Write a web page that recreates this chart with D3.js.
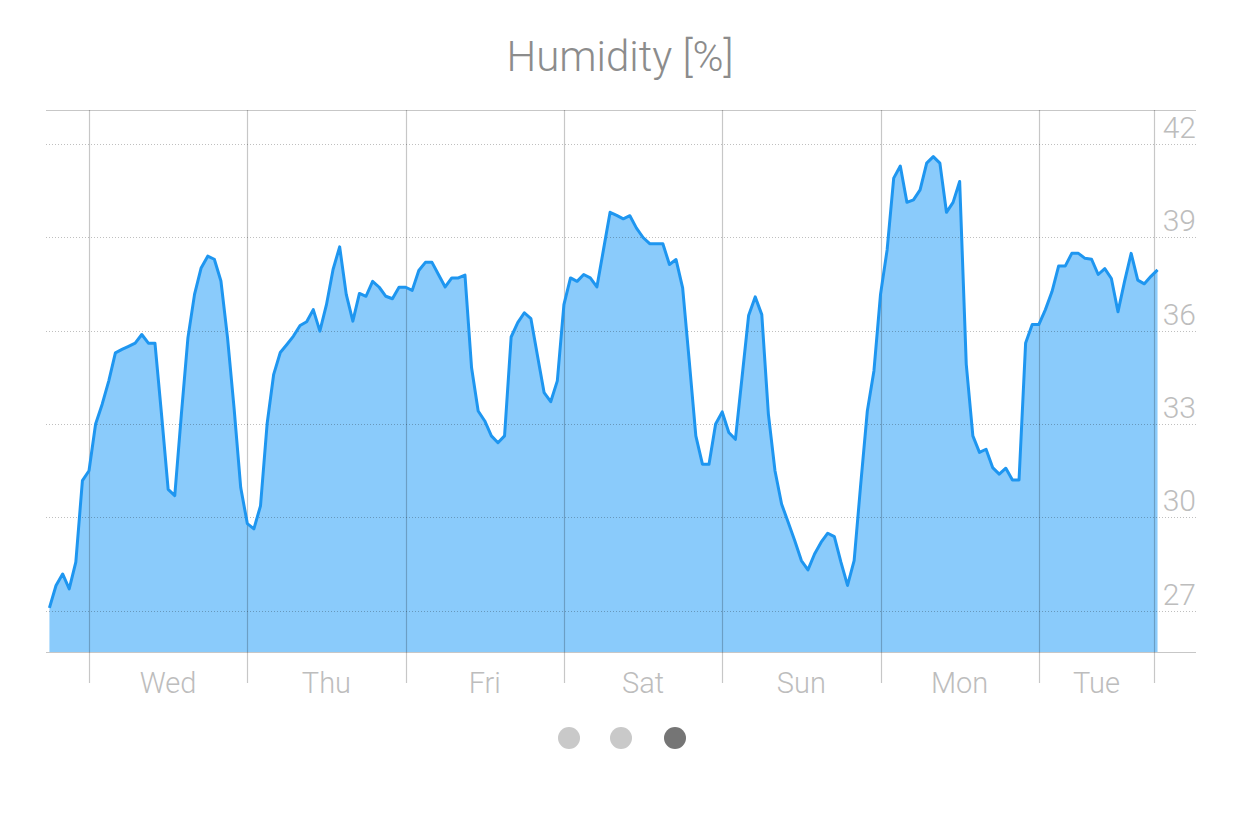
<!DOCTYPE html>
<html>
<head>
<meta charset="utf-8">
<script src="https://cdn.jsdelivr.net/npm/d3@7"></script>
<style>
  html, body { margin: 0; padding: 0; background: #fff; }
  svg { display: block; font-family: "Helvetica Neue", Roboto, "Open Sans", "Liberation Sans", sans-serif; }
</style>
</head>
<body>
<svg id="chart" width="1242" height="814"></svg>
<script>
// ---- data ----
const title = "Humidity [%]";
const days = ["Wed", "Thu", "Fri", "Sat", "Sun", "Mon", "Tue"];
// hourly readings, hour offsets relative to Wed 00:00 (start = Tue 18:00)
const startHour = -6;
const humidity = [
  27.09, 27.81, 28.18, 27.70, 28.56, 31.18,
  31.50, 33.00, 33.64, 34.39, 35.29, 35.40, 35.50, 35.60, 35.88, 35.60, 35.60, 33.30,
  30.90, 30.70, 33.30, 35.78, 37.17, 38.02, 38.40, 38.30, 37.60, 35.78, 33.50, 30.96,
  29.80, 29.63, 30.37, 33.00, 34.60, 35.30, 35.56, 35.83, 36.17, 36.29, 36.68, 35.99,
  36.84, 37.97, 38.70, 37.17, 36.31, 37.20, 37.11, 37.59, 37.40, 37.11, 37.03, 37.40,
  37.40, 37.30, 37.94, 38.20, 38.20, 37.80, 37.41, 37.70, 37.70, 37.79, 34.81, 33.42,
  33.10, 32.62, 32.40, 32.62, 35.80, 36.26, 36.58, 36.39, 35.19, 34.01, 33.72, 34.39,
  36.84, 37.70, 37.59, 37.81, 37.70, 37.41, 38.61, 39.81, 39.71, 39.60, 39.70, 39.30,
  39.00, 38.80, 38.80, 38.80, 38.13, 38.29, 37.38, 35.03, 32.62, 31.71, 31.71, 33.00,
  33.39, 32.73, 32.51, 34.49, 36.49, 37.09, 36.52, 33.32, 31.50, 30.43, 29.84, 29.25,
  28.61, 28.31, 28.82, 29.20, 29.49, 29.38, 28.56, 27.81, 28.61, 31.07, 33.42, 34.71,
  37.17, 38.60, 40.91, 41.30, 40.13, 40.21, 40.53, 41.39, 41.60, 41.39, 39.81, 40.13,
  40.80, 34.92, 32.62, 32.09, 32.19, 31.60, 31.39, 31.58, 31.20, 31.20, 35.61, 36.20,
  36.20, 36.68, 37.26, 38.08, 38.08, 38.49, 38.49, 38.33, 38.30, 37.81, 38.00, 37.68,
  36.61, 37.59, 38.49, 37.63, 37.51, 37.75, 37.96
];
const yTicks = [27, 30, 33, 36, 39, 42];
const xTickHours = [0, 24, 48, 72, 96, 120, 144, 161.5];
const pager = [false, false, true];

// ---- layout ----
const plot = { left: 46, right: 1196, top: 110, bottom: 652 };
const svg = d3.select("#chart");

const x = d3.scaleLinear().domain([-6.52, 167.83]).range([plot.left, plot.right]);
const y = d3.scaleLinear().domain([25.67, 43.1]).range([plot.bottom, plot.top]);

const data = humidity.map((v, i) => ({ h: startHour + i, v }));

// title
svg.append("text")
  .attr("x", 620).attr("y", 71)
  .attr("text-anchor", "middle")
  .attr("font-size", 42).attr("font-weight", 300)
  .attr("fill", "#8c8c8c")
  .text(title);

// area + line
const area = d3.area().x(d => x(d.h)).y0(plot.bottom).y1(d => y(d.v));
const line = d3.line().x(d => x(d.h)).y(d => y(d.v));

svg.append("path").datum(data)
  .attr("d", area).attr("fill", "#8acbfb");

// horizontal dotted gridlines
svg.append("g").selectAll("line").data(yTicks).join("line")
  .attr("x1", plot.left).attr("x2", plot.right)
  .attr("y1", d => Math.round(y(d)) + 0.5).attr("y2", d => Math.round(y(d)) + 0.5)
  .attr("stroke", "rgba(0,0,0,0.25)").attr("stroke-width", 1)
  .attr("stroke-dasharray", "1,2");

// vertical day gridlines (extend below axis as ticks)
svg.append("g").selectAll("line").data(xTickHours).join("line")
  .attr("x1", d => Math.round(x(d)) + 0.5).attr("x2", d => Math.round(x(d)) + 0.5)
  .attr("y1", plot.top).attr("y2", 683)
  .attr("stroke", "rgba(0,0,0,0.22)").attr("stroke-width", 1.2);

// top and bottom frame lines
[plot.top, plot.bottom].forEach(yy => {
  svg.append("line")
    .attr("x1", plot.left).attr("x2", plot.right)
    .attr("y1", yy + 0.5).attr("y2", yy + 0.5)
    .attr("stroke", "rgba(0,0,0,0.22)").attr("stroke-width", 1);
});

svg.append("path").datum(data)
  .attr("d", line).attr("fill", "none")
  .attr("stroke", "#1e96f0").attr("stroke-width", 3)
  .attr("stroke-linejoin", "round");

// y labels (right side, above gridline)
svg.append("g").selectAll("text").data(yTicks).join("text")
  .attr("x", 1196).attr("y", d => y(d) - 6)
  .attr("text-anchor", "end")
  .attr("font-size", 30).attr("font-weight", 300)
  .attr("fill", "#bdbdbd")
  .text(d => d);

// day labels centred between ticks
const mids = days.map((d, i) => ({ d, h: (xTickHours[i] + xTickHours[i + 1]) / 2 }));
svg.append("g").selectAll("text").data(mids).join("text")
  .attr("x", d => x(d.h)).attr("y", 693)
  .attr("text-anchor", "middle")
  .attr("font-size", 29).attr("font-weight", 300)
  .attr("fill", "#bdbdbd")
  .text(d => d.d);

// pager dots
svg.append("g").selectAll("circle").data(pager).join("circle")
  .attr("cx", (d, i) => [569, 621, 675][i]).attr("cy", 738).attr("r", 11)
  .attr("fill", d => d ? "#757575" : "#c9c9c9");
</script>
</body>
</html>
